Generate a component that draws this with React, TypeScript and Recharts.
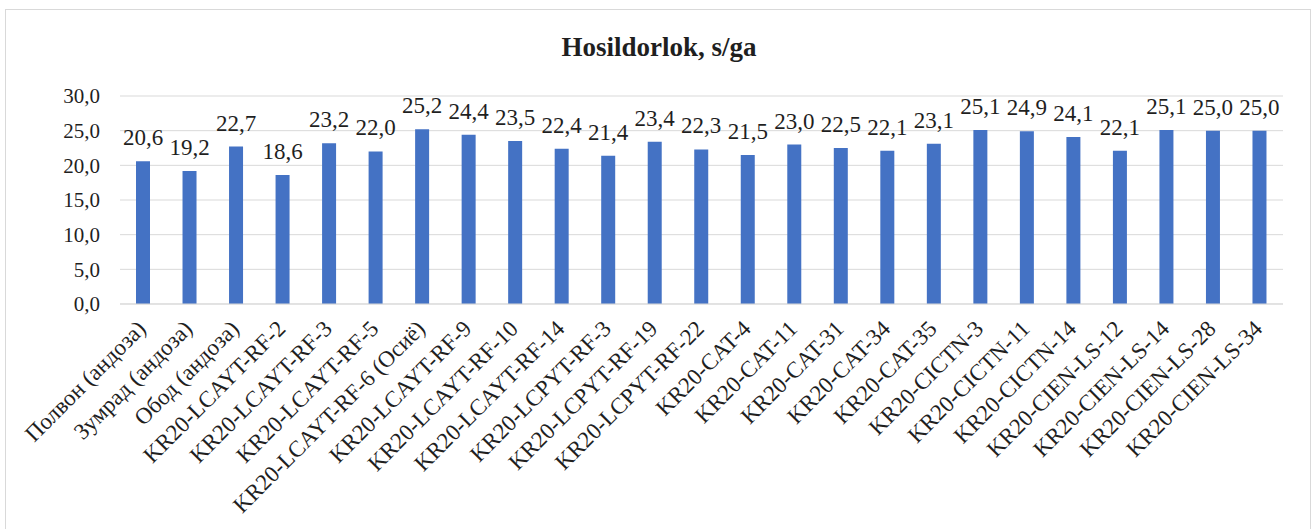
import { BarChart, Bar, XAxis, YAxis, CartesianGrid, LabelList } from "recharts";

const categories: string[] = [
  "Полвон (андоза)",
  "Зумрад (андоза)",
  "Обод (андоза)",
  "KR20-LCAYT-RF-2",
  "KR20-LCAYT-RF-3",
  "KR20-LCAYT-RF-5",
  "KR20-LCAYT-RF-6 (Осиё)",
  "KR20-LCAYT-RF-9",
  "KR20-LCAYT-RF-10",
  "KR20-LCAYT-RF-14",
  "KR20-LCPYT-RF-3",
  "KR20-LCPYT-RF-19",
  "KR20-LCPYT-RF-22",
  "KR20-CAT-4",
  "KR20-CAT-11",
  "KR20-CAT-31",
  "KR20-CAT-34",
  "KR20-CAT-35",
  "KR20-CICTN-3",
  "KR20-CICTN-11",
  "KR20-CICTN-14",
  "KR20-CIEN-LS-12",
  "KR20-CIEN-LS-14",
  "KR20-CIEN-LS-28",
  "KR20-CIEN-LS-34",
];

const yields: number[] = [
  20.6, 19.2, 22.7, 18.6, 23.2, 22.0, 25.2, 24.4, 23.5, 22.4, 21.4, 23.4, 22.3,
  21.5, 23.0, 22.5, 22.1, 23.1, 25.1, 24.9, 24.1, 22.1, 25.1, 25.0, 25.0,
];

const yTicks: number[] = [0, 5, 10, 15, 20, 25, 30];

const data = categories.map((name, i) => ({ name, value: yields[i] }));

const fmt = (v: number) => v.toFixed(1).replace(".", ",");

const TEXT = "#1f1f1f";

const XTick = (props: any) => {
  const { x, y, payload } = props;
  return (
    <g transform={`translate(${x + 4},${y + 24})`}>
      <text x={0} y={0} textAnchor="end" transform="rotate(-45)" fill={TEXT} fontSize={23}>
        {payload.value}
      </text>
    </g>
  );
};

const TopLabel = (props: any) => {
  const { x, y, width, value } = props;
  return (
    <text x={x + width / 2} y={y - 16} textAnchor="middle" fill={TEXT} fontSize={23}>
      {fmt(value)}
    </text>
  );
};

export default function App() {
  return (
    <div
      style={{
        position: "absolute",
        left: 0,
        top: 0,
        width: 1314,
        height: 529,
        overflow: "hidden",
        background: "#fff",
        fontFamily: "'Liberation Serif', 'Times New Roman', serif",
      }}
    >
      <div
        style={{
          position: "absolute",
          left: 5,
          top: 9,
          width: 1306,
          height: 560,
          border: "1px solid #d9d9d9",
          boxSizing: "border-box",
        }}
      />
      <div
        style={{
          position: "absolute",
          left: 0,
          top: 32,
          width: 1318,
          textAlign: "center",
          fontWeight: "bold",
          fontSize: 27,
          color: TEXT,
          lineHeight: "30px",
        }}
      >
        Hosildorlok, s/ga
      </div>
      <div style={{ position: "absolute", left: 0, top: 0 }}>
        <BarChart
          width={1314}
          height={529}
          data={data}
          margin={{ top: 96, right: 31, bottom: 0, left: 0 }}
        >
          <CartesianGrid vertical={false} stroke="#d9d9d9" />
          <XAxis
            dataKey="name"
            interval={0}
            height={225}
            tickLine={false}
            tickSize={0}
            axisLine={{ stroke: "#d9d9d9" }}
            tick={<XTick />}
          />
          <YAxis
            width={120}
            domain={[0, 30]}
            ticks={yTicks}
            tickFormatter={fmt}
            axisLine={false}
            tickLine={false}
            tickSize={0}
            tickMargin={20}
            tick={{ fill: TEXT, fontSize: 21 }}
          />
          <Bar dataKey="value" fill="#4472c4" barSize={14} isAnimationActive={false}>
            <LabelList dataKey="value" content={<TopLabel />} />
          </Bar>
        </BarChart>
      </div>
    </div>
  );
}
